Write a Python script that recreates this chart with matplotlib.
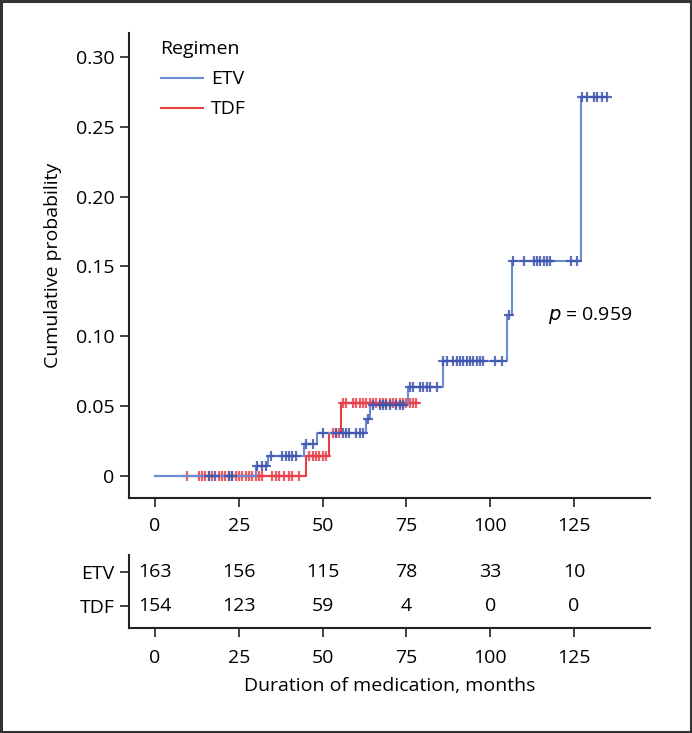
import numpy as np
from matplotlib import pyplot as plt
from matplotlib.patches import Rectangle

plt.rcParams['font.family'] = ['Open Sans', 'DejaVu Sans']
plt.rcParams['font.size'] = 14

# step curves (cumulative probability)
etv_times = [0, 30, 33.7, 44.5, 48.4, 63, 64, 75.5, 86, 105, 106.5, 127, 135]
etv_probs = [0, 0.007, 0.0143, 0.023, 0.031, 0.041, 0.051, 0.064, 0.082, 0.115, 0.154, 0.271, 0.271]
tdf_times = [0, 45, 52, 55.5, 78.5]
tdf_probs = [0, 0.0143, 0.031, 0.052, 0.052]

# censoring times
etv_censor = [16, 18, 22, 23, 30.5, 32, 33, 34.5, 38, 39, 40, 41, 42, 45, 47,
              50, 54, 56, 57, 58, 60, 61, 62, 63.5, 65, 67, 68, 69, 70, 72, 73, 74,
              76, 77, 79, 80, 81, 82, 84, 86, 87, 89, 90, 91, 92, 93, 94, 95, 96,
              97, 98, 101.5, 103.6, 105.5, 106.8, 110, 113, 114, 115, 116, 117, 118,
              124, 126, 127.5, 129, 131, 132, 133.4, 135]
tdf_censor = [9.5, 13, 14, 15, 16, 17, 19, 20, 21, 22, 23, 24, 25, 26, 27, 28, 29,
              30, 31, 32, 35, 36, 37, 38.5, 40, 41, 43, 46, 47, 48, 49, 50, 51,
              53, 54, 55, 56, 57, 59, 60, 61, 62, 63, 64, 65, 66, 67, 68, 69, 70,
              71, 72, 73, 74, 75, 76, 77, 78]

# number at risk
risk_ticks = [0, 25, 50, 75, 100, 125]
etv_risk = [163, 156, 115, 78, 33, 10]
tdf_risk = [154, 123, 59, 4, 0, 0]

p_text = "0.959"

blue_line, blue_mark = '#6a8ad4', '#3f55ad'
red_line, red_mark = '#e5403f', '#e8404a'
spine_col = '#222222'
fs = 14


def level_at(times, probs, t):
    idx = np.searchsorted(times, t, side='right') - 1
    return np.asarray(probs)[np.clip(idx, 0, len(probs) - 1)]


def style_axis(ax, xpad):
    for s in ('top', 'right'):
        ax.spines[s].set_visible(False)
    for s in ('left', 'bottom'):
        ax.spines[s].set_linewidth(1.5)
        ax.spines[s].set_color(spine_col)
    ax.tick_params(length=6.5, width=1.2, color=spine_col, labelsize=fs, pad=4)
    ax.tick_params(axis='x', pad=xpad)


fig = plt.figure(figsize=(6.92, 7.33), dpi=100)
fig.patches.append(Rectangle((0.002, 0.002), 0.996, 0.996, transform=fig.transFigure,
                             fill=False, edgecolor='#333333', linewidth=2.2))

ax = fig.add_axes([0.1864, 0.3206, 0.7529, 0.6344])
ax.step(tdf_times, tdf_probs, where='post', color=red_line, lw=1.5, label='TDF', zorder=2)
ax.step(etv_times, etv_probs, where='post', color=blue_line, lw=1.5, label='ETV', zorder=3)
ax.plot(tdf_censor, level_at(tdf_times, tdf_probs, tdf_censor), '+', color=red_mark,
        ms=7.5, mew=1.6, alpha=0.85, zorder=2)
ax.plot(etv_censor, level_at(etv_times, etv_probs, etv_censor), '+', color=blue_mark,
        ms=7.5, mew=1.6, alpha=0.85, zorder=3)

ax.set_xlim(-7.8, 147.7)
ax.set_ylim(-0.0157, 0.317)
ax.set_xticks(risk_ticks)
ax.set_yticks([0, 0.05, 0.10, 0.15, 0.20, 0.25, 0.30])
ax.set_yticklabels(['0', '0.05', '0.10', '0.15', '0.20', '0.25', '0.30'])
ax.set_ylabel('Cumulative probability', fontsize=fs, labelpad=10)
style_axis(ax, 7)

handles, labels = ax.get_legend_handles_labels()
leg = ax.legend(handles[::-1], labels[::-1], title='Regimen', loc='upper left',
                bbox_to_anchor=(0.027, 1.022), frameon=False, fontsize=fs,
                title_fontsize=fs, handlelength=2.2, handletextpad=0.4,
                labelspacing=0.62, alignment='left')
ax.text(117.3, 0.1146, r'$p$ = ' + p_text, fontsize=fs, va='center', ha='left')

# risk table
ax2 = fig.add_axes([0.1864, 0.1432, 0.7529, 0.0996])
ax2.set_xlim(-7.8, 147.7)
ax2.set_ylim(-0.65, 1.5)
ax2.set_xticks(risk_ticks)
ax2.set_yticks([1, 0])
ax2.set_yticklabels(['ETV', 'TDF'])
for t, a, b in zip(risk_ticks, etv_risk, tdf_risk):
    ax2.text(t, 1, str(a), ha='center', va='center', fontsize=fs)
    ax2.text(t, 0, str(b), ha='center', va='center', fontsize=fs)
ax2.set_xlabel('Duration of medication, months', fontsize=fs, labelpad=7.5)
style_axis(ax2, 8.5)

fig.savefig('out.png', dpi=100)
